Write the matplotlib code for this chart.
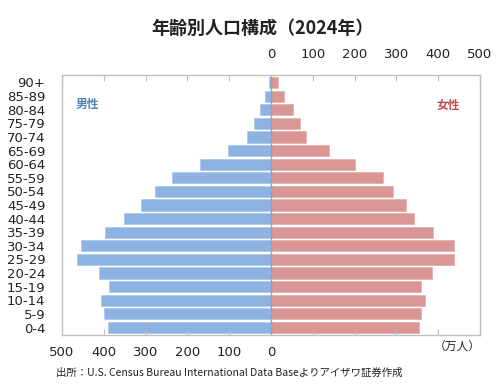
import matplotlib
matplotlib.use("Agg")
import matplotlib.pyplot as plt
import numpy as np

plt.rcParams['font.family'] = ['DejaVu Sans', 'Noto Sans CJK JP']

age_groups = ["0-4", "5-9", "10-14", "15-19", "20-24", "25-29", "30-34", "35-39",
              "40-44", "45-49", "50-54", "55-59", "60-64", "65-69", "70-74",
              "75-79", "80-84", "85-89", "90+"]
male = [389, 400, 406, 388, 412, 463, 454, 396, 351, 310, 277, 236, 169, 104,
        58, 41, 26, 14, 5]
female = [353, 360, 369, 358, 386, 437, 437, 387, 343, 323, 292, 268, 202, 139,
          84, 70, 53, 32, 17]
x_ticks = [-500, -400, -300, -200, -100, 0, 100, 200, 300, 400, 500]

fig = plt.figure(figsize=(5, 3.92), dpi=100)
ax = fig.add_axes([0.124, 0.1454, 0.836, 0.6633])

y = np.arange(len(age_groups))
ax.barh(y, [-v for v in male], height=0.82, color='#8DB3E2', edgecolor='#a9c6ea', linewidth=0.5)
ax.barh(y, female, height=0.82, color='#D99694', edgecolor='#e3adab', linewidth=0.5)
ax.axvline(0, color='#a0a0a0', lw=1.0)

ax.set_xlim(-500, 500)
ax.set_ylim(-0.55, len(age_groups) - 0.45)
ax.set_yticks(y)
ax.set_yticklabels(age_groups, fontsize=9.5, color='#222222')
ax.tick_params(axis='y', length=0, pad=12)

ax.set_xticks(x_ticks)
ax.set_xticklabels([str(abs(t)) if t <= 0 else '' for t in x_ticks], fontsize=9.5, color='#222222')
ax.tick_params(axis='x', direction='in', length=4, color='#bfbfbf', pad=8)

sec = ax.secondary_xaxis('top')
sec.set_xticks(x_ticks)
sec.set_xticklabels([str(t) if t >= 0 else '' for t in x_ticks], fontsize=9.5, color='#222222')
sec.tick_params(axis='x', direction='in', length=4, color='#bfbfbf', pad=10)
sec.spines['top'].set_visible(False)

for s in ax.spines.values():
    s.set_color('#bfbfbf')
    s.set_linewidth(1)

ax.text(0.033, 0.885, '男性', transform=ax.transAxes, fontsize=8.5, fontweight='bold',
        color='#4F81BD', family=['Noto Sans CJK JP'], va='center')
ax.text(0.895, 0.885, '女性', transform=ax.transAxes, fontsize=8.5, fontweight='bold',
        color='#C0504D', family=['Noto Sans CJK JP'], va='center')

fig.text(0.524, 0.928, '年齢別人口構成（2024年）', ha='center', va='center', fontsize=13,
         fontweight='bold', family=['Noto Sans CJK JP'], color='#222222')
fig.text(0.915, 0.117, '（万人）', ha='center', va='center', fontsize=8.5,
         family=['Noto Sans CJK JP'], color='#222222')
fig.text(0.112, 0.048, '出所：U.S. Census Bureau International Data Baseよりアイザワ証券作成',
         ha='left', va='center', fontsize=7.5, family=['Noto Sans CJK JP', 'DejaVu Sans'],
         color='#222222')

fig.savefig('out.png', dpi=100)
